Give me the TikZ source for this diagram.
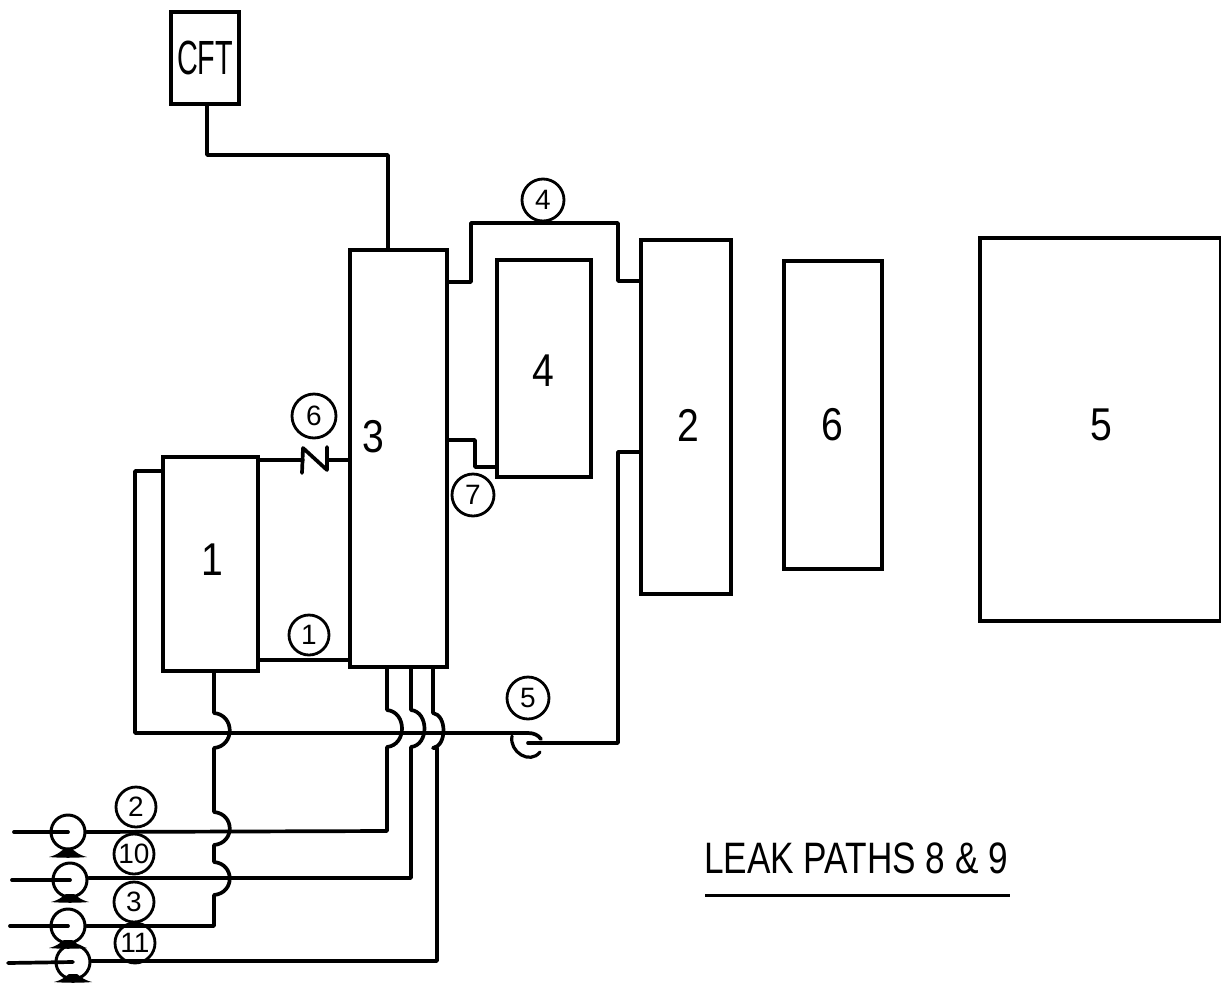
\documentclass[tikz,border=0pt]{standalone}
\usepackage{fontspec}
\setmainfont{Liberation Sans}
\newcommand{\hmp}[3]{.. controls +(#3,2) and +(#3,-2) .. (#1,#2)}
\tikzset{
  x=1pt,y=-1pt,
  pipe/.style={line width=3.7pt,line join=round,line cap=round},
  thin pipe/.style={line width=3.2pt,line join=round,line cap=round},
  box/.style={draw,line width=3.6pt,anchor=north west,inner sep=0pt,outer sep=0pt},
  tag/.style={draw,circle,line width=2.8pt,minimum size=40pt,inner sep=0pt,font=\fontsize{28}{28}\selectfont},
  big/.style={font=\fontsize{46}{46}\selectfont,xscale=.85},
  pump/.style={draw,circle,line width=3pt,minimum size=34pt,inner sep=0pt,fill=white},
  base/.style={fill=black}
}
\begin{document}
\begin{tikzpicture}
\useasboundingbox (0,0) rectangle (1221,983);
% boxes
\node[box,minimum width=68pt,minimum height=92pt] (cft) at (171,12) {};
\node[box,minimum width=97pt,minimum height=417pt] (b3) at (350,250) {};
\node[box,minimum width=95pt,minimum height=214pt] (b1) at (163,457) {};
\node[box,minimum width=94pt,minimum height=217pt] (b4) at (497,260) {};
\node[box,minimum width=90pt,minimum height=354pt] (b2) at (641,240) {};
\node[box,minimum width=98pt,minimum height=308pt] (b6) at (784,261) {};
\node[box,minimum width=241pt,minimum height=383pt] (b5) at (980,238) {};
% box labels
\node[font=\fontsize{48}{48}\selectfont,xscale=.6] (tcft) at (205,58) {CFT};
\node[big] (t3) at (373,437) {3};
\node[big] (t1) at (212,560) {1};
\node[big] (t4) at (543,371) {4};
\node[big] (t2) at (688,425) {2};
\node[big] (t6) at (832,425) {6};
\node[big] (t5) at (1101,425) {5};
% circled tags
\node[tag] (c2) at (136,807) {2};
\node[tag] (c10) at (134,854) {10};
\node[tag] (c3) at (134,902) {3};
\node[tag] (c11) at (135,943) {11};
\node[tag] (c1) at (309,635) {1};
\node[tag,minimum size=44pt] (c6) at (314,416) {6};
\node[tag,minimum size=42pt] (c7) at (473,495) {7};
\node[tag,minimum size=42pt] (c4) at (543,200) {4};
\node[tag,minimum size=42pt] (c5) at (528,698) {5};
% surge line
\draw[pipe] (cft.south -| 207,0) -- (207,155) -- (388,155) -- (b3.north -| 388,0);
% hot leg and steam generator bypass
\draw[pipe] (b3.east |- 0,282) -- (471,282) -- (471,223) -- (618,223) -- (618,281) -- (b2.west |- 0,281);
\draw[pipe] (b3.east |- 0,440) -- (475,440) -- (475,467) -- (b4.west |- 0,467);
% valve line and lower link
\coordinate (v1) at (303,460);
\coordinate (v2) at (327,460);
\draw[thin pipe] (b1.east |- 0,460) -- (v1);
\draw[thin pipe] (v2) -- (b3.west |- 0,460);
\draw[pipe] (302,473) -- (303,448) -- (327,470) -- (327,447);
\draw[pipe] (b1.east |- 0,660) -- (b3.west |- 0,660);
% return line to valve 5
\coordinate (h5) at (541,739);
\draw[pipe] (b1.west |- 0,471) -- (135,471) -- (135,733) -- (528,733) .. controls (534,733) and (538,735) .. (h5);
\coordinate (j5) at (528,743);
\draw[thin pipe] (512,736) .. controls (509,752) and (530,765) .. (540,752);
\draw[pipe] (j5) -- (618,743) -- (618,452) -- (b2.west |- 0,452);
% pumps
\node[pump] (p1) at (68,832) {};
\node[pump] (p2) at (70,880) {};
\node[pump] (p3) at (68,926) {};
\node[pump] (p4) at (73,962) {};
\foreach \n/\x/\y in {p1/68/853,p2/70/898,p3/68/944,p4/73/978}{
  \fill[base] (\x-19,\y+4) .. controls (\x-10,\y+2) and (\x-6,\y-3) .. (\x-4,\y-4)
     -- (\x+4,\y-4) .. controls (\x+6,\y-3) and (\x+10,\y+2) .. (\x+19,\y+4)
     .. controls (\x+8,\y+5) and (\x-8,\y+5) .. (\x-19,\y+4) -- cycle;
}
\draw[pipe] (14,832) -- (p1.center);
\draw[pipe] (12,880) -- (p2.center);
\draw[pipe] (10,926) -- (p3.center);
\draw[pipe] (8,963) -- (p4.center);
% risers with crossing humps
\draw[pipe] (b1.south -| 214,0) -- (214,713) \hmp{214}{748}{21} -- (214,812) \hmp{214}{845}{21} -- (214,862) \hmp{214}{895}{21} -- (214,926) -- (p3.east);
\draw[pipe] (b3.south -| 387,0) -- (387,710) \hmp{387}{747}{20} -- (387,831) -- (p1.east);
\draw[pipe] (b3.south -| 411,0) -- (411,710) \hmp{411}{747}{18} -- (411,878) -- (p2.east |- 0,878);
\draw[pipe] (b3.south -| 433,0) -- (433,713) \hmp{433}{748}{14} -- (437,748) -- (437,961) -- (p4.east |- 0,961);
% caption
\node[font=\fontsize{44}{44}\selectfont,xscale=.8] (cap) at (856,858) {LEAK PATHS 8 \& 9};
\coordinate (ul) at (705,895);
\coordinate (ur) at (1010,895);
\draw[line width=3pt] (ul) -- (ur);
\end{tikzpicture}
\end{document}
